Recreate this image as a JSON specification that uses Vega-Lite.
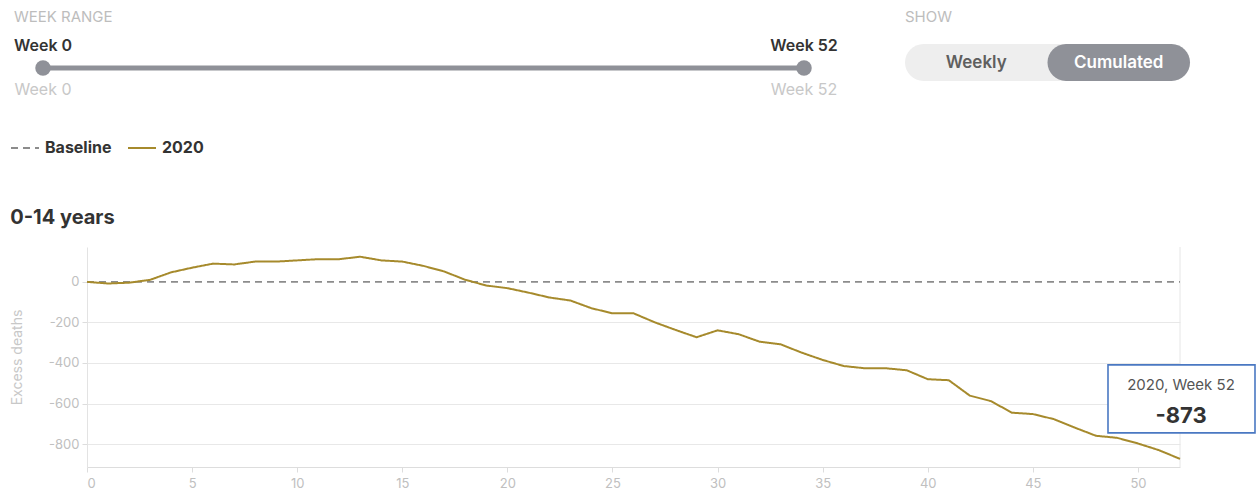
{
  "$schema": "https://vega.github.io/schema/vega-lite/v6.json",
  "padding": {"left": 10, "top": 9, "right": 0, "bottom": 0},
  "columns": 1,
  "align": "none",
  "spacing": 109,
  "config": {
    "font": "Inter",
    "view": {"stroke": null}
  },
  "datasets": {
    "deaths": [
      {"series": "Baseline", "week": 0, "value": 0},
      {"series": "Baseline", "week": 52, "value": 0},
      {"series": "2020", "week": 0, "value": 0},
      {"series": "2020", "week": 1, "value": -8},
      {"series": "2020", "week": 2, "value": -4},
      {"series": "2020", "week": 3, "value": 10},
      {"series": "2020", "week": 4, "value": 47},
      {"series": "2020", "week": 5, "value": 70},
      {"series": "2020", "week": 6, "value": 90},
      {"series": "2020", "week": 7, "value": 86},
      {"series": "2020", "week": 8, "value": 100},
      {"series": "2020", "week": 9, "value": 100},
      {"series": "2020", "week": 10, "value": 106},
      {"series": "2020", "week": 11, "value": 112},
      {"series": "2020", "week": 12, "value": 112},
      {"series": "2020", "week": 13, "value": 124},
      {"series": "2020", "week": 14, "value": 106},
      {"series": "2020", "week": 15, "value": 100},
      {"series": "2020", "week": 16, "value": 79},
      {"series": "2020", "week": 17, "value": 51},
      {"series": "2020", "week": 18, "value": 10},
      {"series": "2020", "week": 19, "value": -18},
      {"series": "2020", "week": 20, "value": -31},
      {"series": "2020", "week": 21, "value": -53},
      {"series": "2020", "week": 22, "value": -77},
      {"series": "2020", "week": 23, "value": -92},
      {"series": "2020", "week": 24, "value": -130},
      {"series": "2020", "week": 25, "value": -155},
      {"series": "2020", "week": 26, "value": -155},
      {"series": "2020", "week": 27, "value": -199},
      {"series": "2020", "week": 28, "value": -237},
      {"series": "2020", "week": 29, "value": -273},
      {"series": "2020", "week": 30, "value": -239},
      {"series": "2020", "week": 31, "value": -258},
      {"series": "2020", "week": 32, "value": -295},
      {"series": "2020", "week": 33, "value": -308},
      {"series": "2020", "week": 34, "value": -349},
      {"series": "2020", "week": 35, "value": -385},
      {"series": "2020", "week": 36, "value": -415},
      {"series": "2020", "week": 37, "value": -426},
      {"series": "2020", "week": 38, "value": -426},
      {"series": "2020", "week": 39, "value": -436},
      {"series": "2020", "week": 40, "value": -480},
      {"series": "2020", "week": 41, "value": -485},
      {"series": "2020", "week": 42, "value": -561},
      {"series": "2020", "week": 43, "value": -588},
      {"series": "2020", "week": 44, "value": -645},
      {"series": "2020", "week": 45, "value": -652},
      {"series": "2020", "week": 46, "value": -677},
      {"series": "2020", "week": 47, "value": -719},
      {"series": "2020", "week": 48, "value": -759},
      {"series": "2020", "week": 49, "value": -769},
      {"series": "2020", "week": 50, "value": -797},
      {"series": "2020", "week": 51, "value": -830},
      {"series": "2020", "week": 52, "value": -873}
    ],
    "range": [
      {"week": 0, "label": "Week 0"},
      {"week": 52, "label": "Week 52"}
    ],
    "show": [
      {"option": "Weekly", "selected": false},
      {"option": "Cumulated", "selected": true}
    ]
  },
  "concat": [
    {
      "spacing": 67,
      "hconcat": [
        {
          "width": 717,
          "height": 48,
          "title": {"text": "WEEK RANGE", "anchor": "start", "fontSize": 15, "fontWeight": "normal", "color": "#bdbdbd", "offset": 13.5},
          "data": {"name": "range"},
          "layer": [
            {
              "mark": {"type": "rule", "strokeWidth": 5, "color": "#8f9198"},
              "encoding": {
                "x": {"aggregate": "min", "field": "week", "type": "quantitative", "scale": {"domain": [0, 52], "range": [-44, 717], "nice": false}, "axis": null},
                "x2": {"aggregate": "max", "field": "week"}
              }
            },
            {
              "mark": {"type": "point", "filled": true, "size": 240, "color": "#8f9198", "opacity": 1},
              "encoding": {"x": {"field": "week", "type": "quantitative"}}
            },
            {
              "mark": {"type": "text", "dy": -22, "fontSize": 16, "fontWeight": 600, "color": "#333333"},
              "encoding": {"x": {"field": "week", "type": "quantitative"}, "text": {"field": "label"}}
            },
            {
              "mark": {"type": "text", "dy": 22, "fontSize": 16, "fontWeight": "normal", "color": "#c8c8c8"},
              "encoding": {"x": {"field": "week", "type": "quantitative"}, "text": {"field": "label"}}
            }
          ]
        },
        {
          "width": 285,
          "height": 37,
          "view": {"fill": "#eeeeee", "cornerRadius": 18.5, "stroke": null},
          "title": {"text": "SHOW", "anchor": "start", "fontSize": 15, "fontWeight": "normal", "color": "#bdbdbd", "offset": 19.5},
          "data": {"name": "show"},
          "encoding": {
            "x": {"field": "option", "type": "nominal", "sort": ["Weekly", "Cumulated"], "scale": {"paddingInner": 0, "paddingOuter": 0}, "axis": null}
          },
          "layer": [
            {
              "transform": [{"filter": "datum.selected"}],
              "mark": {"type": "bar", "cornerRadius": 18.5, "color": "#8f9198"}
            },
            {
              "mark": {"type": "text", "fontSize": 17, "fontWeight": 600},
              "encoding": {
                "text": {"field": "option"},
                "color": {"condition": {"test": "datum.selected", "value": "#ffffff"}, "value": "#5f5f5f"}
              }
            }
          ]
        }
      ]
    },
    {
      "width": 1093,
      "height": 220,
      "title": {"text": "0-14 years", "anchor": "start", "fontSize": 20, "fontWeight": "bold", "color": "#333333", "offset": 19},
      "data": {"name": "deaths"},
      "encoding": {
        "x": {
          "field": "week", "type": "quantitative",
          "scale": {"domain": [0, 52], "nice": false},
          "axis": {"values": [0, 5, 10, 15, 20, 25, 30, 35, 40, 45, 50], "grid": false, "title": null, "labelColor": "#c0c0c0", "labelFontSize": 13, "tickColor": "#dddddd", "domainColor": "#dddddd", "tickSize": 5, "labelPadding": 5}
        },
        "y": {
          "field": "value", "type": "quantitative",
          "scale": {"domain": [-913, 172], "nice": false, "zero": false},
          "axis": {
            "values": [0, -200, -400, -600, -800],
            "labelExpr": "'' + datum.value",
            "title": "Excess deaths", "titleColor": "#c8c8c8", "titleFontWeight": "normal", "titleFontSize": 14, "titlePadding": 24,
            "labelColor": "#c0c0c0", "labelFontSize": 13, "labelPadding": 3,
            "gridColor": {"condition": {"test": "datum.value === 0", "value": "transparent"}, "value": "#e8e8e8"},
            "domainColor": "#e3e3e3", "tickColor": "#dddddd", "tickSize": 5
          }
        }
      },
      "layer": [
        {
          "transform": [{"filter": "datum.series === '2020' && datum.week === 52"}],
          "mark": {"type": "rule", "color": "#e6e6e6"},
          "encoding": {"x": {"field": "week", "type": "quantitative"}, "y": null}
        },
        {
          "transform": [{"filter": "datum.series === 'Baseline'"}],
          "mark": {"type": "line", "strokeWidth": 1.6},
          "encoding": {
            "color": {"field": "series", "type": "nominal", "scale": {"domain": ["Baseline", "2020"], "range": ["#8c8c8c", "#a68a2c"]},
              "legend": {"title": null, "orient": "none", "legendX": -77, "legendY": 89, "direction": "horizontal", "symbolType": "stroke", "symbolSize": 784, "symbolStrokeWidth": 2, "labelFontSize": 16, "labelFontWeight": "bold", "labelColor": "#333333", "labelOffset": 5, "columnPadding": 12}},
            "strokeDash": {"field": "series", "type": "nominal", "scale": {"domain": ["Baseline", "2020"], "range": [[7, 5], [1, 0]]},
              "legend": {"title": null, "orient": "none", "legendX": -77, "legendY": 89, "direction": "horizontal", "symbolType": "stroke", "symbolSize": 784, "symbolStrokeWidth": 2, "labelFontSize": 16, "labelFontWeight": "bold", "labelColor": "#333333", "labelOffset": 5, "columnPadding": 12}}
          }
        },
        {
          "transform": [{"filter": "datum.series === '2020'"}],
          "mark": {"type": "line", "strokeWidth": 2},
          "encoding": {
            "color": {"field": "series", "type": "nominal"},
            "strokeDash": {"field": "series", "type": "nominal"}
          }
        },
        {
          "transform": [{"filter": "datum.series === '2020' && datum.week === 52"}],
          "mark": {"type": "point", "shape": "M -0.72 -0.94 H 0.75 V -0.26 H -0.72 Z", "size": 40000, "filled": true, "fill": "#ffffff", "stroke": "#4a78c2", "strokeWidth": 1.6, "opacity": 1}
        },
        {
          "transform": [{"filter": "datum.series === '2020' && datum.week === 52"}, {"calculate": "datum.series + ', Week ' + datum.week", "as": "tiplabel"}],
          "mark": {"type": "text", "dx": 1, "dy": -74, "fontSize": 15, "color": "#555555"},
          "encoding": {"text": {"field": "tiplabel"}}
        },
        {
          "transform": [{"filter": "datum.series === '2020' && datum.week === 52"}, {"calculate": "'' + datum.value", "as": "tipvalue"}],
          "mark": {"type": "text", "dx": 1, "dy": -43, "fontSize": 22, "fontWeight": "bold", "color": "#333333"},
          "encoding": {"text": {"field": "tipvalue"}}
        }
      ]
    }
  ]
}
